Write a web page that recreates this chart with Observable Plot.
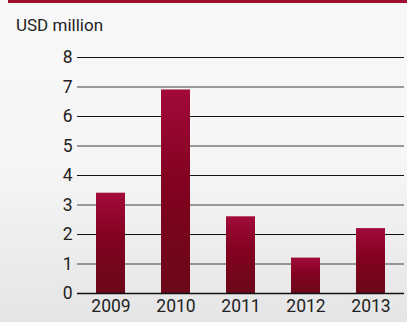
<!DOCTYPE html>
<html><head><meta charset="utf-8">
<script src="https://cdn.jsdelivr.net/npm/d3@7"></script>
<script src="https://cdn.jsdelivr.net/npm/@observablehq/plot@0.6"></script>
<style>
html,body{margin:0;padding:0;}
body{width:407px;height:322px;overflow:hidden;position:relative;background:linear-gradient(#f8f8f8 0%,#f6f6f6 50%,#e5e5e5 100%);font-family:Roboto,"Liberation Sans",sans-serif;}
#topline{position:absolute;left:8px;right:0;top:0;height:2.5px;background:#a0102f;}
#title{height:40px;box-sizing:border-box;padding:15px 0 0 16px;font-size:17px;line-height:20px;color:#222;}
</style></head>
<body>
<div id="topline"></div>
<div id="title">USD million</div>
<div id="chart"></div>
<script>
const years = ["2009","2010","2011","2012","2013"];
const values = [3.4, 6.9, 2.6, 1.2, 2.2];
const yTicks = [0,1,2,3,4,5,6,7,8];

const data = years.map((y,i)=>({year:y, value:values[i]}));

const plot = Plot.plot({
  width: 407,
  height: 282,
  marginTop: 17,
  marginBottom: 29,
  marginLeft: 77,
  marginRight: 3,
  style: {background: "transparent", fontFamily: "Roboto, 'Liberation Sans', sans-serif", fontSize: "17.5px", color: "#222"},
  x: {domain: years, paddingInner: 0.56, paddingOuter: 0.28, label: null},
  y: {domain: [0, 8], ticks: yTicks, label: null},
  marks: [
    Plot.ruleY(yTicks.filter(d => d % 2 === 1), {stroke: "#7a7a7a", strokeWidth: 1.6}),
    Plot.ruleY(yTicks.filter(d => d % 2 === 0 && d > 0), {stroke: "#111", strokeWidth: 1.1}),
    Plot.barY(data, {x: "year", y: "value", fill: "url(#barGrad)"}),
    Plot.ruleY([0], {stroke: "#111", strokeWidth: 1.3}),
    Plot.axisY({ticks: yTicks, tickSize: 0, tickPadding: 5, fontSize: 17.5}),
    Plot.axisX({tickSize: 0, tickPadding: 6, fontSize: 17.5})
  ]
});
const ns = "http://www.w3.org/2000/svg";
const defs = document.createElementNS(ns, "defs");
const grad = document.createElementNS(ns, "linearGradient");
grad.setAttribute("id", "barGrad");
grad.setAttribute("x1", "0"); grad.setAttribute("y1", "0");
grad.setAttribute("x2", "0"); grad.setAttribute("y2", "1");
[["0%","#a20a3a"],["45%","#82021f"],["100%","#6a0818"]].forEach(([o,c])=>{
  const s = document.createElementNS(ns, "stop");
  s.setAttribute("offset", o); s.setAttribute("stop-color", c);
  grad.appendChild(s);
});
defs.appendChild(grad);
plot.insertBefore(defs, plot.firstChild);
document.getElementById("chart").appendChild(plot);
</script>
</body></html>
